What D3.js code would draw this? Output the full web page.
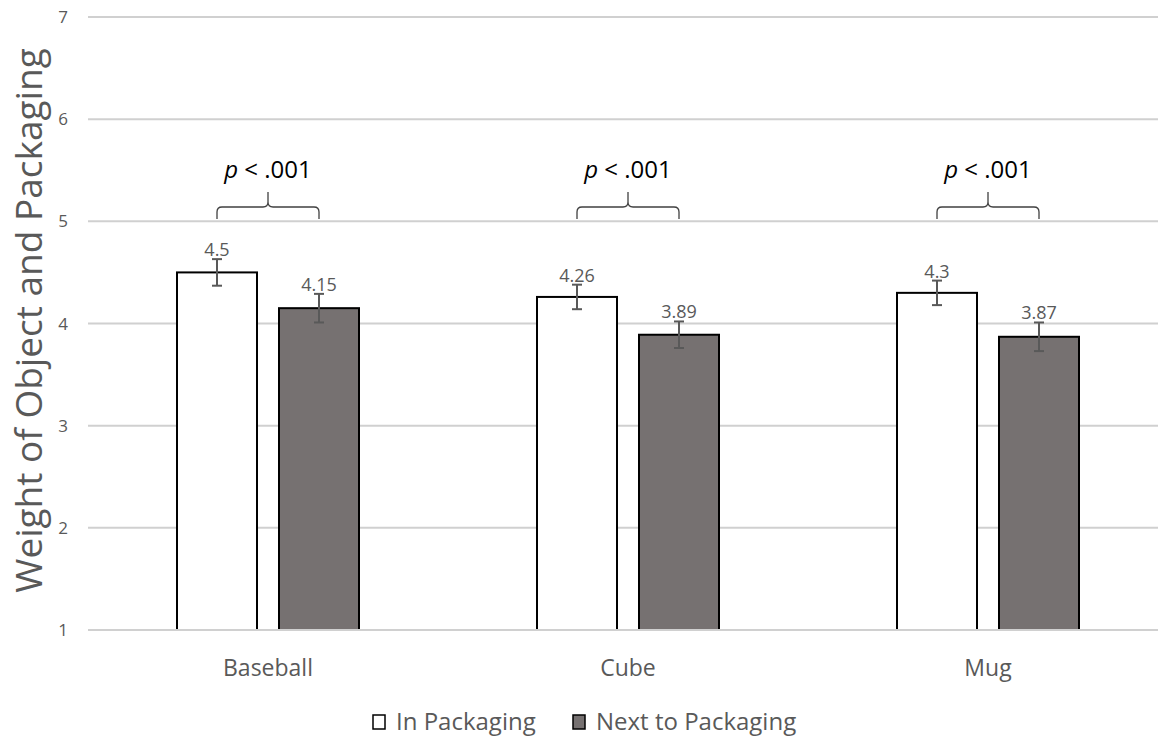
<!DOCTYPE html>
<html><head><meta charset="utf-8">
<script src="https://cdn.jsdelivr.net/npm/d3@7"></script>
<style>body{margin:0;background:#fff;} svg{display:block;font-family:"Open Sans","Noto Sans",sans-serif;}</style>
</head><body><svg id="c" width="1158" height="738"></svg>
<script>
const categories = ["Baseball","Cube","Mug"];
const seriesNames = ["In Packaging","Next to Packaging"];
const inPackaging = [4.5, 4.26, 4.3];
const nextToPackaging = [4.15, 3.89, 3.87];
const errIn = [0.13, 0.12, 0.12];
const errNext = [0.14, 0.13, 0.14];
const pLabels = ["p < .001","p < .001","p < .001"];
const yTicks = [1,2,3,4,5,6,7];

(function(){
const svg = d3.select("#c");
const W=1158,H=738;
const pLeft=88, pRight=1168, pTop=17, pBottom=630;
const x = d3.scaleBand().domain(categories).range([pLeft,pRight]);
const y = d3.scaleLinear().domain([1,7]).range([pBottom,pTop]);
const barW = 80, gap = 22;
const colors = ["#ffffff","#767171"];
const grey = "#595959";

svg.append("g").selectAll("line").data(yTicks).join("line")
  .attr("x1",pLeft).attr("x2",W).attr("y1",d=>y(d)).attr("y2",d=>y(d))
  .attr("stroke","#d0d0d0").attr("stroke-width",2);
svg.append("g").selectAll("text").data(yTicks).join("text")
  .attr("x",68).attr("y",d=>y(d)+6).attr("text-anchor","end")
  .attr("fill",grey).attr("font-size",17).text(d=>d);
svg.append("text").attr("transform",`translate(42,${(pTop+pBottom)/2-3}) rotate(-90)`)
  .attr("text-anchor","middle").attr("fill",grey).attr("font-size",37)
  .text("Weight of Object and Packaging");

const series = [inPackaging, nextToPackaging];
const errs = [errIn, errNext];
const cx = (c,s) => x(c)+x.bandwidth()/2 + (s===0 ? -(gap/2+barW/2) : (gap/2+barW/2));

series.forEach((vals,s)=>{
  const g = svg.append("g");
  g.selectAll("rect").data(categories).join("rect")
    .attr("x",(c)=>cx(c,s)-barW/2).attr("y",(c,i)=>y(vals[i]))
    .attr("width",barW).attr("height",(c,i)=>y(1)-y(vals[i]))
    .attr("fill",colors[s]).attr("stroke","#000").attr("stroke-width",2);
  categories.forEach((c,i)=>{
    const xc = cx(c,s), hi=y(vals[i]+errs[s][i]), lo=y(vals[i]-errs[s][i]);
    g.append("line").attr("x1",xc).attr("x2",xc).attr("y1",hi).attr("y2",lo).attr("stroke",grey).attr("stroke-width",2);
    g.append("line").attr("x1",xc-5).attr("x2",xc+5).attr("y1",hi).attr("y2",hi).attr("stroke",grey).attr("stroke-width",2);
    g.append("line").attr("x1",xc-5).attr("x2",xc+5).attr("y1",lo).attr("y2",lo).attr("stroke",grey).attr("stroke-width",2);
    g.append("text").attr("x",xc).attr("y",hi-3).attr("text-anchor","middle")
      .attr("fill",grey).attr("font-size",18).text(vals[i]);
  });
});
svg.append("line").attr("x1",pLeft).attr("x2",W).attr("y1",y(1)).attr("y2",y(1)).attr("stroke","#d0d0d0").attr("stroke-width",2);

svg.append("g").selectAll("text").data(categories).join("text")
  .attr("x",c=>x(c)+x.bandwidth()/2).attr("y",676).attr("text-anchor","middle")
  .attr("fill",grey).attr("font-size",23).text(c=>c);

categories.forEach((c,i)=>{
  const x1=cx(c,0), x2=cx(c,1), xm=(x1+x2)/2;
  const yb=219, yh=207, yt=192, r=5;
  const path = `M${x1},${yb} L${x1},${yh+r} Q${x1},${yh} ${x1+r},${yh} L${xm-r},${yh} Q${xm},${yh} ${xm},${yh-r} L${xm},${yt} M${xm},${yh-r} Q${xm},${yh} ${xm+r},${yh} L${x2-r},${yh} Q${x2},${yh} ${x2},${yh+r} L${x2},${yb}`;
  svg.append("path").attr("d",path).attr("fill","none").attr("stroke","#404040").attr("stroke-width",1.3);
  const t = svg.append("text").attr("x",xm).attr("y",178).attr("text-anchor","middle").attr("fill","#000").attr("font-size",24);
  t.append("tspan").attr("font-style","italic").text(pLabels[i].slice(0,1));
  t.append("tspan").text(pLabels[i].slice(1));
});

const lg = svg.append("g");
const legendX = [373, 573];
seriesNames.forEach((n,s)=>{
  lg.append("rect").attr("x",legendX[s]).attr("y",715).attr("width",12).attr("height",14)
    .attr("fill",colors[s]).attr("stroke","#000").attr("stroke-width",1.5);
  lg.append("text").attr("x",legendX[s]+23).attr("y",730).attr("fill",grey).attr("font-size",24).text(n);
});
})();
</script></body></html>
